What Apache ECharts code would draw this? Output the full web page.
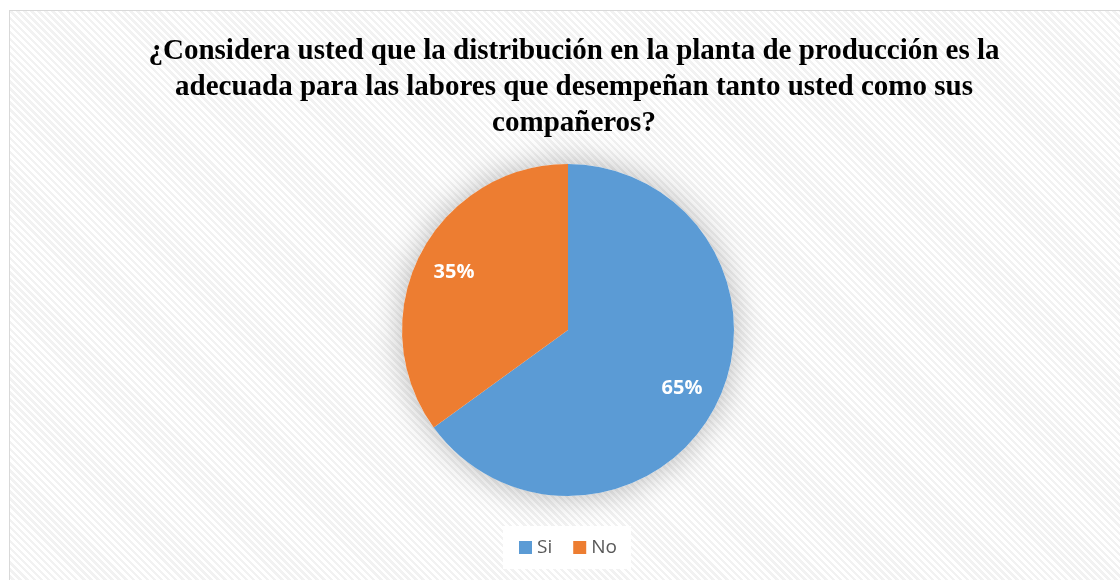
<!DOCTYPE html>
<html>
<head>
<meta charset="utf-8">
<script src="https://cdn.jsdelivr.net/npm/echarts@6/dist/echarts.min.js"></script>
<style>
  html, body { margin: 0; padding: 0; background: #ffffff; }
  #bg {
    position: absolute; left: 9px; top: 10px; width: 1200px; height: 700px;
    border: 1px solid #d9d9d9; box-sizing: border-box;
    background: repeating-linear-gradient(45deg, #ffffff 0px, #ffffff 2.5px, #f2f2f2 2.5px, #f2f2f2 5px);
  }
  #chart { position: absolute; left: 0; top: 0; width: 1120px; height: 580px; }
</style>
</head>
<body>
<div id="bg"></div>
<div id="chart"></div>
<script>
const titleText = '¿Considera usted que la distribución en la planta de producción es la\nadecuada para las labores que desempeñan tanto usted como sus\ncompañeros?';
const categories = ['Si', 'No'];
const values = [65, 35];
const colors = ['#5b9bd5', '#ed7d31'];

const total = values.reduce((a, b) => a + b, 0);
const pieData = categories.map((c, i) => ({ name: c, value: values[i], itemStyle: { color: colors[i] } }));

const chart = echarts.init(document.getElementById('chart'), null, { renderer: 'canvas' });
chart.setOption({
  backgroundColor: 'transparent',
  animation: false,
  title: {
    text: titleText,
    left: 569,
    top: 29,
    textAlign: 'center',
    textStyle: {
      fontFamily: 'Liberation Serif',
      fontWeight: 'bold',
      fontSize: 29,
      lineHeight: 36,
      color: '#000000'
    }
  },
  legend: {
    data: categories,
    top: 526,
    left: 503,
    icon: 'rect',
    itemWidth: 13,
    itemHeight: 13,
    itemGap: 21,
    padding: [12, 14, 12, 16],
    backgroundColor: '#ffffff',
    textStyle: { fontFamily: 'Open Sans', fontSize: 19, color: '#595959' }
  },
  series: [
    {
      type: 'pie',
      silent: true,
      center: [568, 330],
      radius: 166,
      label: { show: false },
      labelLine: { show: false },
      data: [{ name: '_', value: total, itemStyle: { color: '#ffffff', shadowBlur: 32, shadowColor: 'rgba(0,0,0,0.28)' } }],
      legendHoverLink: false
    },
    {
      type: 'pie',
      center: [568, 330],
      radius: 166,
      startAngle: 90,
      clockwise: true,
      label: { show: false },
      labelLine: { show: false },
      data: pieData
    },
    {
      type: 'pie',
      silent: true,
      center: [568, 330],
      radius: [84, 166],
      startAngle: 90,
      clockwise: true,
      itemStyle: { color: 'transparent' },
      label: {
        show: true,
        position: 'inside',
        formatter: p => p.value + '%',
        color: '#ffffff',
        fontFamily: 'Open Sans',
        fontWeight: 'bold',
        fontSize: 20
      },
      labelLine: { show: false },
      data: categories.map((c, i) => ({ name: c, value: values[i], itemStyle: { color: 'transparent' } }))
    }
  ]
});
</script>
</body>
</html>
